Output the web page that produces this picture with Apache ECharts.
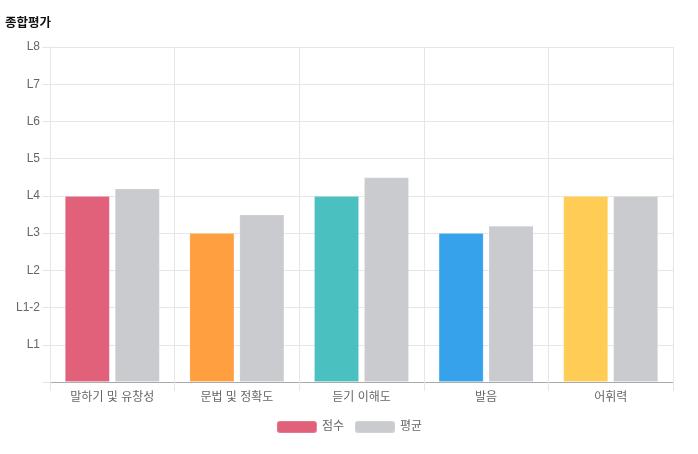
<!DOCTYPE html>
<html><head><meta charset="utf-8">
<script src="https://cdn.jsdelivr.net/npm/echarts@6/dist/echarts.min.js"></script>
<style>html,body{margin:0;padding:0;background:#fff}#c{width:698px;height:454px}</style>
</head><body><div id="c"></div>
<script>
const categories = ['말하기 및 유창성', '문법 및 정확도', '듣기 이해도', '발음', '어휘력'];
const levelLabels = ['', 'L1', 'L1-2', 'L2', 'L3', 'L4', 'L5', 'L6', 'L7', 'L8'];
const scoreValues = [5, 4, 5, 4, 5];
const averageValues = [5.2, 4.5, 5.5, 4.2, 5];
const scoreColors = ['#e1617b', '#ff9f40', '#4bc0c0', '#36a2eb', '#ffcd56'];
const seriesNames = ['점수', '평균'];

const FONT = "'Liberation Sans', Arial, 'Noto Sans CJK KR', sans-serif";
const chart = echarts.init(document.getElementById('c'));
chart.setOption({
  animation: false,
  textStyle: { fontFamily: FONT },
  title: { text: '종합평가', left: 0, top: 12, textStyle: { fontSize: 12.5, fontWeight: 'bold', color: '#111', fontFamily: FONT } },
  legend: {
    bottom: 15, left: 'center', itemWidth: 40, itemHeight: 12, itemGap: 10,
    textStyle: { color: '#666', fontSize: 12, fontFamily: FONT },
    data: seriesNames
  },
  grid: { left: 50, right: 25, top: 47, bottom: 72 },
  xAxis: {
    type: 'category', data: categories, boundaryGap: true,
    axisLine: { lineStyle: { color: '#aaa' } },
    axisTick: { show: true, length: 9, interval: 0, lineStyle: { color: '#e6e6e6' } },
    axisLabel: { color: '#666', fontSize: 12, margin: 10, interval: 0 },
    splitLine: { show: true, interval: 0, lineStyle: { color: '#e6e6e6' } }
  },
  yAxis: {
    type: 'value', min: 0, max: 9, interval: 1,
    axisLine: { show: true, lineStyle: { color: '#e6e6e6' } },
    axisTick: { show: true, length: 8, lineStyle: { color: '#e6e6e6' } },
    axisLabel: { color: '#666', fontSize: 12, margin: 10, formatter: v => levelLabels[Math.round(v)] || '' },
    splitLine: { lineStyle: { color: '#e6e6e6' } }
  },
  series: [
    {
      name: seriesNames[0], type: 'bar', barWidth: 45, barGap: '11%',
      itemStyle: { color: scoreColors[0], borderColor: 'rgba(255,255,255,0.15)', borderWidth: 1 },
      data: scoreValues.map((v, i) => ({ value: v, itemStyle: { color: scoreColors[i] } }))
    },
    {
      name: seriesNames[1], type: 'bar', barWidth: 45,
      itemStyle: { color: '#c9cbcf', borderColor: 'rgba(255,255,255,0.15)', borderWidth: 1 },
      data: averageValues
    }
  ]
});
</script></body></html>
